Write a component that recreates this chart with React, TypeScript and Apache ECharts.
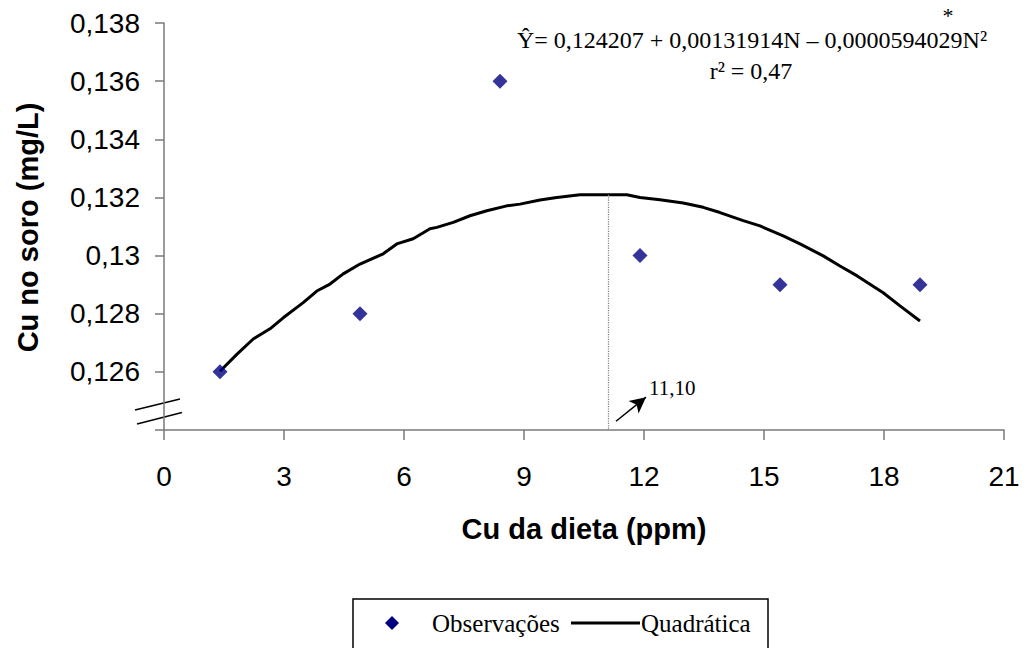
import React, { useEffect, useRef } from "react";
import * as echarts from "echarts";

// Observed data
const obsX = [1.4, 4.9, 8.4, 11.9, 15.4, 18.9];
const obsY = [0.126, 0.128, 0.136, 0.13, 0.129, 0.129];

// Quadratic fitted curve
const curveX = [1.4, 1.82, 2.23, 2.65, 2.98, 3.48, 3.82, 4.15, 4.48, 4.9, 5.48, 5.82, 6.23, 6.65, 6.82, 7.23, 7.65, 8.07, 8.57, 8.9, 9.4, 9.82, 10.4, 11.57, 11.9, 12.4, 12.98, 13.48, 13.9, 14.48, 14.9, 15.48, 15.9, 16.48, 16.9, 17.33, 17.98, 18.4, 18.9];
const curveY = [0.12602, 0.1266, 0.12713, 0.12748, 0.12786, 0.12838, 0.12878, 0.12902, 0.12937, 0.12971, 0.13006, 0.1304, 0.13058, 0.13092, 0.13097, 0.13114, 0.13137, 0.13154, 0.13171, 0.13177, 0.13191, 0.132, 0.13209, 0.13209, 0.132, 0.13192, 0.13181, 0.13166, 0.13148, 0.1312, 0.13102, 0.13068, 0.1304, 0.12999, 0.12964, 0.1293, 0.12872, 0.12827, 0.12775];

// Peak of the curve
const peakX = 11.1;
const peakY = 0.13209;
const peakLabel = "11,10";

// Arrow pointing at the peak abscissa
const arrowFrom = [11.3, 0.1243];
const arrowTo = [12.05, 0.12513];

// Axes
const xMin = 0;
const xMax = 21;
const xStep = 3;
const yMin = 0.124;
const yMax = 0.138;
const yStep = 0.002;

const equationText = "Ŷ= 0,124207 + 0,00131914N – 0,0000594029N²";
const r2Text = "r² = 0,47";
const xTitle = "Cu da dieta (ppm)";
const yTitle = "Cu no soro (mg/L)";
const legendNames = ["Observações", "Quadrática"];

const SANS = "Liberation Sans, Arial, sans-serif";
const SERIF = "Liberation Serif, Times New Roman, serif";

export default function App() {
  const ref = useRef<HTMLDivElement>(null);

  useEffect(() => {
    if (!ref.current) return;
    const chart = echarts.init(ref.current, null, { renderer: "svg" });
    const axisColor = "#7a7a7a";
    const option: any = {
      animation: false,
      backgroundColor: "#ffffff",
      grid: { left: 164, right: 27, top: 23, bottom: 218 },
      xAxis: {
        type: "value",
        min: xMin,
        max: xMax,
        interval: xStep,
        splitLine: { show: false },
        axisLine: { show: true, lineStyle: { color: axisColor, width: 1.5 } },
        axisTick: { show: true, length: 10, lineStyle: { color: axisColor, width: 1.5 } },
        axisLabel: { fontFamily: SANS, fontSize: 28, color: "#000", margin: 32 },
      },
      yAxis: {
        type: "value",
        min: yMin,
        max: yMax,
        interval: yStep,
        splitLine: { show: false },
        axisLine: { show: true, lineStyle: { color: axisColor, width: 1.5 } },
        axisTick: { show: true, length: 9, lineStyle: { color: axisColor, width: 1.5 } },
        axisLabel: {
          fontFamily: SANS,
          fontSize: 28,
          color: "#000",
          margin: 24,
          formatter: (v: number) => {
            if (Math.abs(v - yMin) < 1e-9) return "";
            return String(Number(v.toFixed(3))).replace(".", ",");
          },
        },
      },
      series: [
        {
          name: legendNames[1],
          type: "line",
          data: curveX.map((x, i) => [x, curveY[i]]),
          showSymbol: false,
          symbol: "none",
          lineStyle: { color: "#000", width: 3 },
          z: 2,
          markLine: {
            silent: true,
            symbol: ["none", "none"],
            label: { show: false },
            lineStyle: { color: "#808080", type: "dotted", width: 1.2 },
            data: [[{ coord: [peakX, peakY] }, { coord: [peakX, yMin] }]],
          },
        },
        {
          name: legendNames[0],
          type: "scatter",
          data: obsX.map((x, i) => [x, obsY[i]]),
          symbol: "diamond",
          symbolSize: 15,
          itemStyle: { color: "#000080" },
          z: 3,
        },
        {
          name: "arrow",
          type: "line",
          data: [],
          markLine: {
            silent: true,
            symbol: ["none", "arrow"],
            symbolSize: [12, 16],
            label: { show: false },
            lineStyle: { color: "#000", type: "solid", width: 1.5 },
            data: [[{ coord: arrowFrom }, { coord: arrowTo }]],
          },
        },
      ],
      graphic: [
        {
          type: "text",
          x: 27.5,
          y: 227.5,
          rotation: Math.PI / 2,
          style: {
            text: yTitle,
            font: `bold 29px ${SANS}`,
            fill: "#000",
            textAlign: "center",
            textVerticalAlign: "middle",
          },
        },
        {
          type: "text",
          x: 584,
          y: 529,
          style: {
            text: xTitle,
            font: `bold 29px ${SANS}`,
            fill: "#000",
            textAlign: "center",
            textVerticalAlign: "middle",
          },
        },
        {
          type: "text",
          x: 752,
          y: 40,
          style: {
            text: equationText,
            font: `24px ${SERIF}`,
            fill: "#000",
            textAlign: "center",
            textVerticalAlign: "middle",
          },
        },
        {
          type: "text",
          x: 948,
          y: 15,
          style: {
            text: "*",
            font: `22px ${SERIF}`,
            fill: "#000",
            textAlign: "center",
            textVerticalAlign: "middle",
          },
        },
        {
          type: "text",
          x: 751,
          y: 71,
          style: {
            text: r2Text,
            font: `24px ${SERIF}`,
            fill: "#000",
            textAlign: "center",
            textVerticalAlign: "middle",
          },
        },
        {
          type: "text",
          x: 649,
          y: 388,
          style: {
            text: peakLabel,
            font: `21px ${SERIF}`,
            fill: "#000",
            textAlign: "left",
            textVerticalAlign: "middle",
          },
        },
        {
          type: "line",
          shape: { x1: 135, y1: 410, x2: 180, y2: 399 },
          style: { stroke: "#000", lineWidth: 1.5 },
        },
        {
          type: "line",
          shape: { x1: 137, y1: 424, x2: 182, y2: 412.5 },
          style: { stroke: "#000", lineWidth: 1.5 },
        },
        {
          type: "rect",
          shape: { x: 353, y: 599, width: 415, height: 70 },
          style: { fill: "#fff", stroke: "#000", lineWidth: 1.5 },
        },
        {
          type: "polygon",
          shape: { points: [[392, 616], [399, 623], [392, 630], [385, 623]] },
          style: { fill: "#000080" },
        },
        {
          type: "text",
          x: 432,
          y: 623,
          style: {
            text: legendNames[0],
            font: `25px ${SERIF}`,
            fill: "#000",
            textAlign: "left",
            textVerticalAlign: "middle",
          },
        },
        {
          type: "line",
          shape: { x1: 571, y1: 623, x2: 640, y2: 623 },
          style: { stroke: "#000", lineWidth: 3 },
        },
        {
          type: "text",
          x: 641,
          y: 623,
          style: {
            text: legendNames[1],
            font: `25px ${SERIF}`,
            fill: "#000",
            textAlign: "left",
            textVerticalAlign: "middle",
          },
        },
      ],
    };
    chart.setOption(option);
    return () => chart.dispose();
  }, []);

  return (
    <div
      ref={ref}
      style={{ position: "fixed", left: 0, top: 0, width: 1031, height: 648, background: "#fff" }}
    />
  );
}
